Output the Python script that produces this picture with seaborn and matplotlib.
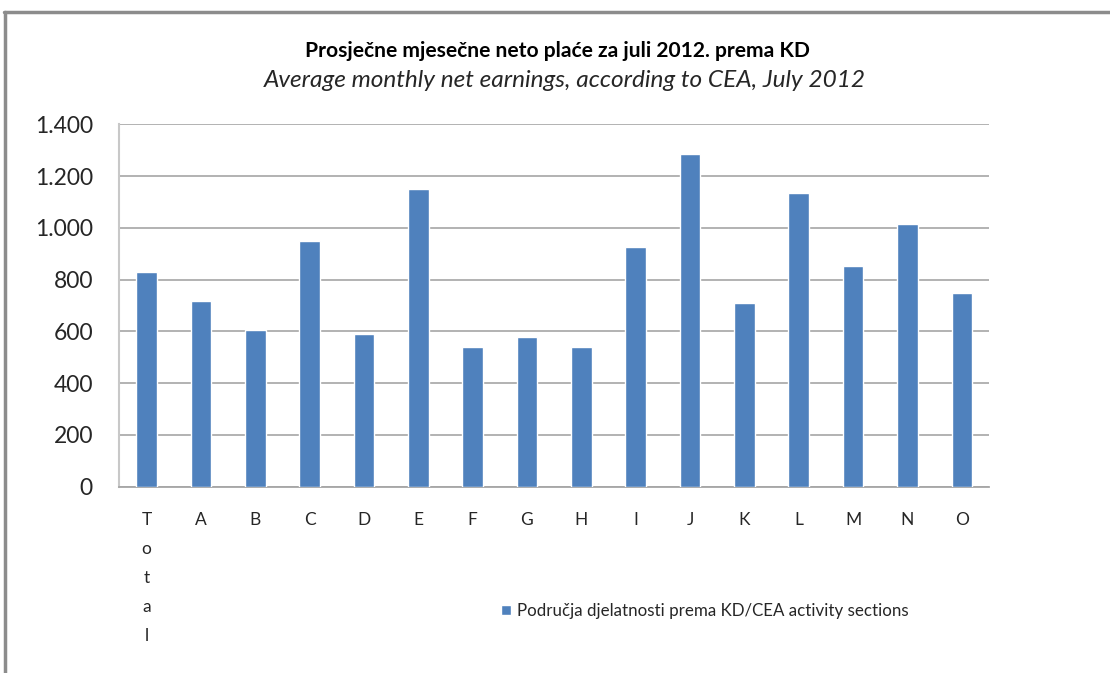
import matplotlib
matplotlib.use("Agg")
import matplotlib.pyplot as plt
import matplotlib.ticker as mticker
from matplotlib.lines import Line2D
import seaborn as sns
import pandas as pd

categories = ["Total", "A", "B", "C", "D", "E", "F", "G", "H", "I", "J", "K", "L", "M", "N", "O"]
tick_labels = ["T\no\nt\na\nl", "A", "B", "C", "D", "E", "F", "G", "H", "I", "J", "K", "L", "M", "N", "O"]
values = [828, 719, 605, 950, 590, 1151, 541, 577, 541, 926, 1284, 711, 1133, 851, 1016, 747]
series_name = "Područja djelatnosti prema KD/CEA activity sections"
title_hr = "Prosječne mjesečne neto plaće za juli 2012. prema KD"
title_en = "Average monthly net earnings, according to CEA, July 2012"
y_ticks = [0, 200, 400, 600, 800, 1000, 1200, 1400]

sns.set_theme(style="white")
plt.rcParams['font.family'] = ['Lato', 'DejaVu Sans']

df = pd.DataFrame({"cat": categories, "val": values})

fig = plt.figure(figsize=(11.10, 6.73), dpi=100)
ax = fig.add_axes([0.1075, 0.2768, 0.7835, 0.5385])

sns.barplot(data=df, x="cat", y="val", color="#4F81BD", width=0.38,
            saturation=1, label=series_name, ax=ax, zorder=3)

ax.set_xlim(-0.5, len(categories) - 0.5)
ax.set_ylim(0, 1400)
ax.set_yticks(y_ticks)
ax.yaxis.set_major_formatter(mticker.FuncFormatter(lambda v, p: f"{int(v):,}".replace(",", ".")))
ax.set_xlabel("")
ax.set_ylabel("")

ax.set_xticks(range(len(categories)))
ax.set_xticklabels(tick_labels, linespacing=2.0, va="top")
ax.tick_params(axis="x", which="major", length=0, pad=18, labelsize=12.5, colors="#262626")
ax.set_xticks([i - 0.5 for i in range(len(categories) + 1)], minor=True)
ax.tick_params(axis="x", which="minor", length=5, width=1, color="#A6A6A6", direction="out")
ax.tick_params(axis="y", which="major", length=9, width=1.2, color="#ADADAD", direction="out",
               labelsize=16.5, colors="#262626", pad=10)

ax.grid(axis="y", color="#ADADAD", linewidth=1.3, zorder=0)
ax.set_axisbelow(True)
for s in ["top", "right"]:
    ax.spines[s].set_visible(False)
ax.spines["left"].set_color("#C8C8C8")
ax.spines["left"].set_linewidth(1.5)
ax.spines["bottom"].set_color("#A6A6A6")
ax.spines["bottom"].set_linewidth(1.3)

fig.text(0.502, 0.924, title_hr, ha="center", va="center", fontsize=15.1, fontweight="bold", color="#000000")
fig.text(0.509, 0.880, title_en, ha="center", va="center", fontsize=17.6, fontstyle="italic", color="#262626")

ax.legend(loc="center left", bbox_to_anchor=(0.451, 0.092), bbox_transform=fig.transFigure,
          frameon=False, handlelength=0.6, handleheight=0.6, handletextpad=0.35, fontsize=12.2,
          borderaxespad=0, borderpad=0)

# outer frame (screenshot border)
fig.add_artist(Line2D([0.004, 1.0], [1 - 11.5 / 673, 1 - 11.5 / 673], transform=fig.transFigure,
                      color="#8C8C8C", linewidth=2.5))
fig.add_artist(Line2D([0.0045, 0.0045], [0.0, 1 - 11.5 / 673], transform=fig.transFigure,
                      color="#8C8C8C", linewidth=2.5))

fig.savefig("out.png", dpi=100)
